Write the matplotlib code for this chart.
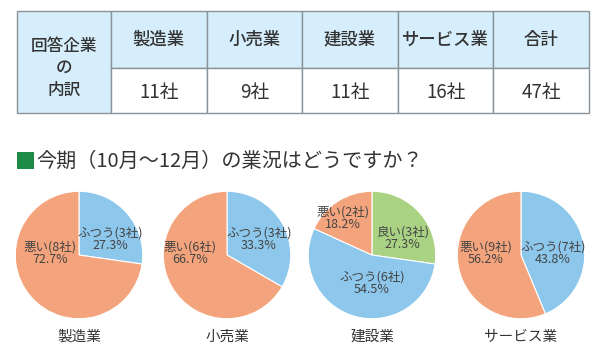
import numpy as np
import matplotlib as mpl
mpl.use('Agg')
import matplotlib.pyplot as plt
from matplotlib.patches import Rectangle

plt.rcParams['font.family'] = ['Noto Sans CJK JP', 'DejaVu Sans']

# table data
row_header = '回答企業\nの\n内訳'
industries = ['製造業', '小売業', '建設業', 'サービス業', '合計']
companies = [11, 9, 11, 16, 47]

title = '今期（10月～12月）の業況はどうですか？'

# pie data (one list per chart, wedges clockwise from 12 o'clock)
pie_names = ['製造業', '小売業', '建設業', 'サービス業']
pie_labels = [['ふつう', '悪い'],
              ['ふつう', '悪い'],
              ['良い', 'ふつう', '悪い'],
              ['ふつう', '悪い']]
pie_counts = [[3, 8],
              [3, 6],
              [3, 6, 2],
              [7, 9]]
pie_pcts = [['27.3%', '72.7%'],
            ['33.3%', '66.7%'],
            ['27.3%', '54.5%', '18.2%'],
            ['43.8%', '56.2%']]

colors = {'良い': '#a9d383', 'ふつう': '#8dc7ec', '悪い': '#f4a47c'}
W, H = 597, 361

fig = plt.figure(figsize=(W / 100, H / 100), dpi=100)
bg = fig.add_axes([0, 0, 1, 1])
bg.set_xlim(0, W)
bg.set_ylim(H, 0)
bg.axis('off')

# --- table ---
x0, x1 = 17, 589
col0 = 111
y0, ym, y1 = 11, 68, 113
head_bg = '#d6eefb'
edge = '#8a9399'
ncol = len(industries)
cw = (x1 - col0) / ncol
bg.add_patch(Rectangle((x0, y0), col0 - x0, y1 - y0, fc=head_bg, ec=edge, lw=1))
for i, (name, n) in enumerate(zip(industries, companies)):
    cx = col0 + i * cw
    bg.add_patch(Rectangle((cx, y0), cw, ym - y0, fc=head_bg, ec=edge, lw=1))
    bg.add_patch(Rectangle((cx, ym), cw, y1 - ym, fc='white', ec=edge, lw=1))
    bg.text(cx + cw / 2, (y0 + ym) / 2, name, ha='center', va='center',
            fontsize=12.5, fontweight='medium', color='#333333')
    bg.text(cx + cw / 2, (ym + y1) / 2 + 2, str(n) + '社', ha='center', va='center',
            fontsize=13.5, color='#333333')
bg.text((x0 + col0) / 2, 68, row_header, ha='center', va='center',
        fontsize=12, fontweight='medium', color='#333333', linespacing=1.25)

# --- title ---
bg.add_patch(Rectangle((17, 152), 17, 17, fc='#1d8a48', ec='none'))
bg.text(36, 161, title, ha='left', va='center', fontsize=14.5, color='#333333')

# --- pies ---
centers = [79, 227, 372, 521]
cy = 255
r = 65
# label positions in pie units
label_pos = [[(0.49, 0.25), (-0.45, 0.03)],
             [(0.5, 0.25), (-0.58, 0.03)],
             [(0.48, 0.26), (0.0, -0.44), (-0.46, 0.58)],
             [(0.5, 0.03), (-0.55, 0.03)]]
for k in range(len(pie_names)):
    ax = fig.add_axes([(centers[k] - r) / W, 1 - (cy + r) / H, 2 * r / W, 2 * r / H])
    cols = [colors[l] for l in pie_labels[k]]
    ax.pie(pie_counts[k], colors=cols, startangle=90, counterclock=False,
           radius=1, wedgeprops=dict(edgecolor='white', linewidth=0.8))
    ax.set_xlim(-1.02, 1.02)
    ax.set_ylim(-1.02, 1.02)
    ax.set_aspect('equal')
    for j, lab in enumerate(pie_labels[k]):
        px, py = label_pos[k][j]
        ax.text(px, py, lab + '(' + str(pie_counts[k][j]) + '社)\n' + pie_pcts[k][j],
                ha='center', va='center', fontsize=9, color='#444444', linespacing=1.0)
    bg.text(centers[k], 337, pie_names[k], ha='center', va='center', fontsize=10.5,
            color='#333333')

fig.savefig('out.png', dpi=100)
